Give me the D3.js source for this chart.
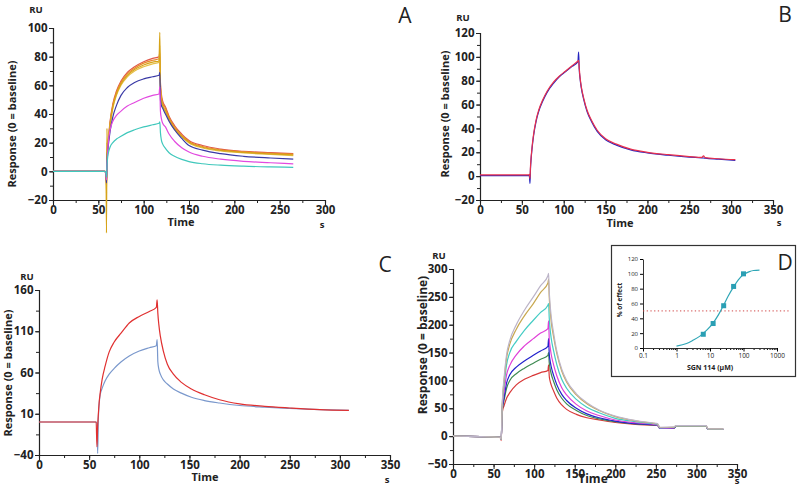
<!DOCTYPE html>
<html>
<head>
<meta charset="utf-8">
<script src="https://cdn.jsdelivr.net/npm/d3@7"></script>
<style>
  body { margin: 0; background: #fff; }
  text { font-family: "Open Sans", sans-serif; fill: #222; }
</style>
</head>
<body>
<svg id="chart" width="800" height="486"></svg>
<script>
// ---- panel A : time (s) and response (RU) per curve
var timeA = [0, 57, 58.5, 59, 59.5, 60, 61, 63, 66, 70, 75, 82, 90, 100, 110, 117, 117.8, 118.5, 119.5, 121, 124, 128, 134, 142, 150, 165, 185, 210, 240, 265];
var aRed     = [0, 0, -3, -8, 5, 14, 22, 35, 47, 56, 63, 69, 73, 76.5, 78.8, 80, 83, 62, 54, 49, 45, 38.5, 32, 26, 21.5, 18, 15.5, 14, 13, 12.3];
var aOrange  = [0, 0, -3, -10, 8, 14, 21, 34, 46, 55, 62, 68, 72, 75.5, 77.5, 78.5, 80, 60, 52, 47.5, 44, 37.5, 31, 25, 20.8, 17.3, 15, 13.6, 12.6, 12];
var aGold    = [0, 0, 0, -43, 30, 12, 20, 33, 45, 54, 61, 67, 71, 74.2, 76.2, 77, 97, 58, 50, 46, 42.5, 36.5, 30, 24.5, 20.3, 16.8, 14.6, 13.2, 12.2, 11.5];
var aYellow  = [0, 0, -2, -15, 20, 13, 20, 32, 44, 53, 60, 66, 70, 73, 75, 76, 88, 57, 49, 45, 41.5, 35.5, 29.3, 24, 19.8, 16.3, 14.2, 12.8, 11.8, 11];
var aBlue    = [0, 0, -2, -8, 5, 12, 18, 28, 38, 46, 53, 58.5, 62, 64.5, 66, 67, 69, 50, 46, 44, 40, 35, 29, 23, 18, 14.8, 12.3, 10.5, 9.3, 8.5];
var aMagenta = [0, 0, -2, -6, 4, 10, 20, 29, 35, 39, 42, 45.5, 48, 51, 53, 54, 59, 42, 37, 33.5, 31, 26, 21, 16.5, 13.5, 10.5, 8.5, 7, 6, 5.2];
var aCyan    = [0, 0, -1, -4, 3, 8, 12.5, 17, 20, 22.5, 24.5, 27, 29, 31, 32.5, 33.5, 34.5, 27, 22, 19, 16, 13, 10.5, 8.3, 6.8, 5.3, 4.3, 3.6, 3.1, 2.8];

// ---- panel B
var timeB = [0, 58, 59, 59.7, 60.3, 61, 62, 64, 67, 70, 75, 80, 88, 95, 102, 110, 117, 117.8, 118.5, 119.5, 121, 124, 128, 133, 140, 150, 163, 180, 200, 225, 250, 265, 267, 269, 285, 305];
var bBlue = [0.5, 0.5, 0, -6, 6, 14, 22, 34, 46, 54, 63, 70, 78, 83.5, 87.5, 92, 96, 104, 90, 82, 74, 64, 54, 46, 37.5, 30.5, 26, 22, 19.5, 17.5, 16, 15.3, 15.2, 15, 14.2, 13.2];
var bRed  = [1, 1, 1.5, -2, 8, 15, 23, 35, 47, 55, 64, 71, 79, 84, 88, 92.5, 96.5, 97, 91, 83, 75, 65, 55, 47, 38.5, 31.3, 26.8, 22.6, 20, 18, 16.4, 15.7, 17, 15.5, 14.6, 13.8];

// ---- panel C
var timeC = [0, 57, 57.8, 58.5, 59.2, 60, 61, 63, 66, 70, 75, 82, 90, 100, 110, 117, 117.8, 118.5, 119.5, 121, 124, 128, 134, 142, 152, 165, 180, 200, 225, 250, 280, 309];
var cRed  = [0, 0, -30, -5, 10, 24, 35, 52, 68, 85, 97, 108, 120, 128, 134, 139, 148, 132, 118, 104, 86, 70, 58, 48, 40, 33, 27, 22, 19, 17, 15, 14];
var cBlue = [0, 0, -2, -38, 5, 22, 33, 41, 50, 58, 65, 73, 80, 86, 90, 92.5, 100, 73, 64, 58, 51, 46, 40, 35, 30, 26, 23, 20, 18, 16.5, 15, 14];

// ---- panel D
var timeD = [0, 58, 59.5, 60.3, 61, 63, 66, 70, 78, 88, 99, 108, 117, 117.8, 118.6, 119.5, 121, 124, 128, 134, 140, 152, 165, 180, 200, 225, 250, 252, 255, 272, 275, 312, 314, 333];
var dRed     = [0, -2, -8, 35, 45, 55, 68, 78, 92, 102, 109, 114, 118, 128, 108, 100, 92, 81, 68, 56, 48, 39, 33, 29, 24.5, 21, 19.5, 19, 14, 14.5, 17.5, 17.5, 12, 12];
var dGreen   = [0, -2, -6, 35, 50, 65, 86, 100, 112, 122, 131, 138, 145, 150, 132, 123, 112, 98, 83, 68, 58, 46, 37, 31, 26, 22, 20, 19.5, 14, 14.5, 17.5, 17.5, 12, 12];
var dBlue    = [0, -2, -6, 35, 52, 70, 95, 110, 124, 135, 145, 153, 161, 175, 148, 137, 125, 109, 92, 75, 64, 50, 40, 33, 27, 22.5, 20, 19.5, 14, 14.5, 17.5, 17.5, 12, 12];
var dMagenta = [0, -2, -6, 38, 58, 80, 110, 127, 146, 162, 175, 185, 193, 207, 175, 162, 147, 128, 108, 87, 74, 57, 45, 37, 29, 24, 20.5, 20, 14.5, 15, 18, 18, 12.5, 12.5];
var dCyan    = [0, -2, -6, 40, 62, 92, 128, 150, 170, 190, 208, 222, 235, 238, 212, 195, 176, 153, 128, 102, 86, 66, 52, 42, 32, 26, 21.5, 21, 15, 15.5, 18, 18, 12.5, 12.5];
var dGold    = [0, -2, -6, 40, 65, 100, 140, 165, 192, 216, 238, 258, 275, 282, 250, 230, 206, 178, 148, 117, 97, 74, 58, 46, 35, 27.5, 22.5, 22, 15.5, 16, 18.5, 18.5, 13, 13];
var dGrey    = [0, -2, -6, 40, 68, 105, 146, 172, 200, 226, 250, 270, 288, 292, 260, 240, 215, 185, 152, 120, 100, 76, 60, 47, 36, 28, 23, 22.5, 16, 16.5, 19, 19, 13, 13];

// ---- inset (dose response)
var doseX = [6.3, 12.4, 25.6, 50.7, 100];
var doseY = [18.5, 33, 57, 83, 100];
var fitX = [1, 2, 3, 5, 8, 12, 18, 25, 35, 50, 70, 100, 150, 200, 300];
var fitY = [2.5, 6, 10, 16, 24, 33, 45, 57, 70, 82, 92, 99, 103, 104.5, 105];
var insetYTicks = [0, 20, 40, 60, 80, 100, 120];
var insetXTicks = [0.1, 1, 10, 100, 1000];

var svg = d3.select("#chart");

function styleAxis(sel) {
  sel.select(".domain").attr("stroke", "#222").attr("stroke-width", 1.1);
  sel.selectAll(".tick line").attr("stroke", "#222");
}

function drawPanel(p) {
  var x = d3.scaleLinear().domain(p.xDomain).range([p.left, p.right]);
  var y = d3.scaleLinear().domain(p.yDomain).range([p.bottom, p.top]);
  var g = svg.append("g");

  // minor ticks
  g.append("g").attr("transform", "translate(0," + p.bottom + ")")
    .call(d3.axisBottom(x).tickValues(d3.range(p.xDomain[0], p.xDomain[1] + 0.1, p.xMinor)).tickFormat("").tickSizeOuter(0).tickSize(3))
    .call(styleAxis);
  g.append("g").attr("transform", "translate(" + p.left + ",0)")
    .call(d3.axisLeft(y).tickValues(d3.range(p.yDomain[0], p.yDomain[1] + 0.1, p.yMinor)).tickFormat("").tickSizeOuter(0).tickSize(3))
    .call(styleAxis);

  // major ticks + labels
  var xa = g.append("g").attr("transform", "translate(0," + p.bottom + ")")
    .call(d3.axisBottom(x).tickValues(d3.range(p.xDomain[0], p.xDomain[1] + 0.1, p.xMajor)).tickSizeOuter(0).tickSize(5).tickPadding(1))
    .call(styleAxis);
  xa.selectAll("text").style("font-size", p.tickSize + "px").style("font-weight", "bold").attr("fill", "#222");
  var ya = g.append("g").attr("transform", "translate(" + p.left + ",0)")
    .call(d3.axisLeft(y).tickValues(d3.range(p.yDomain[0], p.yDomain[1] + 0.1, p.yMajor)).tickSizeOuter(0).tickSize(4).tickPadding(1.5))
    .call(styleAxis);
  ya.selectAll("text").style("font-size", p.tickSize + "px").style("font-weight", "bold").attr("fill", "#222");

  var line = d3.line()
    .x(function(d) { return x(d[0]); })
    .y(function(d) { return y(d[1]); })
    .curve(d3.curveMonotoneX);

  p.series.forEach(function(s) {
    var pts = p.time.map(function(t, i) { return [t, s.values[i]]; });
    g.append("path").datum(pts)
      .attr("d", line)
      .attr("fill", "none")
      .attr("stroke", s.color)
      .attr("stroke-width", 1.2)
      .attr("stroke-linejoin", "round");
  });

  // labels
  g.append("text").attr("x", p.ru[0]).attr("y", p.ru[1]).attr("text-anchor", "middle").text("RU")
    .style("font-size", "9.5px").style("font-weight", "bold");
  g.append("text").attr("x", p.timeAt[0]).attr("y", p.timeAt[1]).attr("text-anchor", "middle").text("Time")
    .style("font-size", p.labelSize + "px").style("font-weight", "bold");
  g.append("text").attr("x", p.sAt[0]).attr("y", p.sAt[1]).attr("text-anchor", "middle").text("s")
    .style("font-size", "9.5px").style("font-weight", "bold");
  g.append("text")
    .attr("transform", "translate(" + p.yLabelAt[0] + "," + p.yLabelAt[1] + ") rotate(-90)")
    .attr("text-anchor", "middle")
    .text("Response (0 = baseline)")
    .style("font-size", p.labelSize + "px").style("font-weight", "bold");
  g.append("text").attr("x", p.letterAt[0]).attr("y", p.letterAt[1]).attr("text-anchor", "middle")
    .text(p.letter).style("font-size", "21px");
}

drawPanel({
  letter: "A", letterAt: [405, 23],
  left: 53, right: 325, top: 28, bottom: 200,
  xDomain: [0, 300], yDomain: [-20, 100], xMajor: 50, xMinor: 25, yMajor: 20, yMinor: 10,
  tickSize: 11.5, labelSize: 11,
  ru: [36, 13], timeAt: [181, 226], sAt: [322, 228], yLabelAt: [16, 124],
  time: timeA,
  series: [
    { values: aRed, color: "#e0584a" },
    { values: aOrange, color: "#e8882a" },
    { values: aYellow, color: "#e6c048" },
    { values: aGold, color: "#d6a318" },
    { values: aBlue, color: "#3a3aa6" },
    { values: aMagenta, color: "#e24ae0" },
    { values: aCyan, color: "#40c8bc" }
  ]
});

drawPanel({
  letter: "B", letterAt: [785, 22],
  left: 480, right: 773, top: 33, bottom: 200,
  xDomain: [0, 350], yDomain: [-20, 120], xMajor: 50, xMinor: 25, yMajor: 20, yMinor: 10,
  tickSize: 11.5, labelSize: 11,
  ru: [463, 21], timeAt: [620, 227], sAt: [779, 226], yLabelAt: [449, 114],
  time: timeB,
  series: [
    { values: bBlue, color: "#2424c0" },
    { values: bRed, color: "#e8304c" }
  ]
});

drawPanel({
  letter: "C", letterAt: [385, 272],
  left: 39, right: 390, top: 290, bottom: 455,
  xDomain: [0, 350], yDomain: [-40, 160], xMajor: 50, xMinor: 25, yMajor: 50, yMinor: 25,
  tickSize: 11.5, labelSize: 11,
  ru: [27, 280], timeAt: [205, 481], sAt: [387, 483], yLabelAt: [12, 373],
  time: timeC,
  series: [
    { values: cBlue, color: "#7a98cc" },
    { values: cRed, color: "#e03030" }
  ]
});

drawPanel({
  letter: "D", letterAt: [785, 270],
  left: 453, right: 737, top: 269, bottom: 464,
  xDomain: [0, 350], yDomain: [-50, 300], xMajor: 50, xMinor: 25, yMajor: 50, yMinor: 25,
  tickSize: 11.5, labelSize: 12,
  ru: [439, 259], timeAt: [593, 483], sAt: [737, 484], yLabelAt: [427, 345],
  time: timeD,
  series: [
    { values: dRed, color: "#d83838" },
    { values: dGreen, color: "#3e8a52" },
    { values: dBlue, color: "#2222cc" },
    { values: dMagenta, color: "#e040d8" },
    { values: dCyan, color: "#44ccc4" },
    { values: dGold, color: "#c8a850" },
    { values: dGrey, color: "#bcb4c8" }
  ]
});

// ---- inset dose-response panel
var inset = svg.append("g");
inset.append("rect").attr("x", 611.5).attr("y", 245.5).attr("width", 184).attr("height", 131)
  .attr("fill", "#fff").attr("stroke", "#333").attr("stroke-width", 1.2);

var ix = d3.scaleLog().domain([0.1, 1000]).range([643, 777]);
var iy = d3.scaleLinear().domain([0, 120]).range([348, 259]);

var minorLog = [];
[0.1, 1, 10, 100].forEach(function(d) {
  for (var k = 2; k <= 9; k++) minorLog.push(d * k);
});
var ixm = inset.append("g").attr("transform", "translate(0,348)")
  .call(d3.axisBottom(ix).tickValues(minorLog).tickFormat("").tickSize(2).tickSizeOuter(0));
ixm.select(".domain").attr("stroke", "#333");
var ixa = inset.append("g").attr("transform", "translate(0,348)")
  .call(d3.axisBottom(ix).tickValues(insetXTicks).tickFormat(d3.format("~g")).tickSize(3.5).tickSizeOuter(0).tickPadding(2));
ixa.select(".domain").attr("stroke", "#333");
ixa.selectAll("text").style("font-size", "6.5px").attr("fill", "#333");

var iya = inset.append("g").attr("transform", "translate(643,0)")
  .call(d3.axisLeft(iy).tickValues(insetYTicks).tickSize(3).tickSizeOuter(0).tickPadding(2));
iya.select(".domain").attr("stroke", "#333");
iya.selectAll("text").style("font-size", "6px").attr("fill", "#333");

// 50% reference line
inset.append("line")
  .attr("x1", ix(0.1)).attr("x2", 790).attr("y1", iy(50)).attr("y2", iy(50))
  .attr("stroke", "#d04848").attr("stroke-width", 1).attr("stroke-dasharray", "1.3,2.4");

var fit = fitX.map(function(v, i) { return [v, fitY[i]]; });
inset.append("path").datum(fit)
  .attr("d", d3.line().x(function(d) { return ix(d[0]); }).y(function(d) { return iy(d[1]); }).curve(d3.curveMonotoneX))
  .attr("fill", "none").attr("stroke", "#2ea6b6").attr("stroke-width", 1.2);

inset.selectAll("rect.pt").data(doseX).enter().append("rect")
  .attr("class", "pt")
  .attr("x", function(d) { return ix(d) - 2.5; })
  .attr("y", function(d, i) { return iy(doseY[i]) - 2.5; })
  .attr("width", 5).attr("height", 5)
  .attr("fill", "#2a9fb4");

inset.append("text").attr("x", 710).attr("y", 370).attr("text-anchor", "middle")
  .text("SGN 114 (\u00b5M)").style("font-size", "7px").style("font-weight", "bold").attr("fill", "#333");
inset.append("text").attr("transform", "translate(622,300) rotate(-90)").attr("text-anchor", "middle")
  .text("% of effect").style("font-size", "6.5px").style("font-weight", "bold").attr("fill", "#333");
inset.append("text").attr("x", 785).attr("y", 270).attr("text-anchor", "middle")
  .text("D").style("font-size", "21px");
</script>
</body>
</html>
